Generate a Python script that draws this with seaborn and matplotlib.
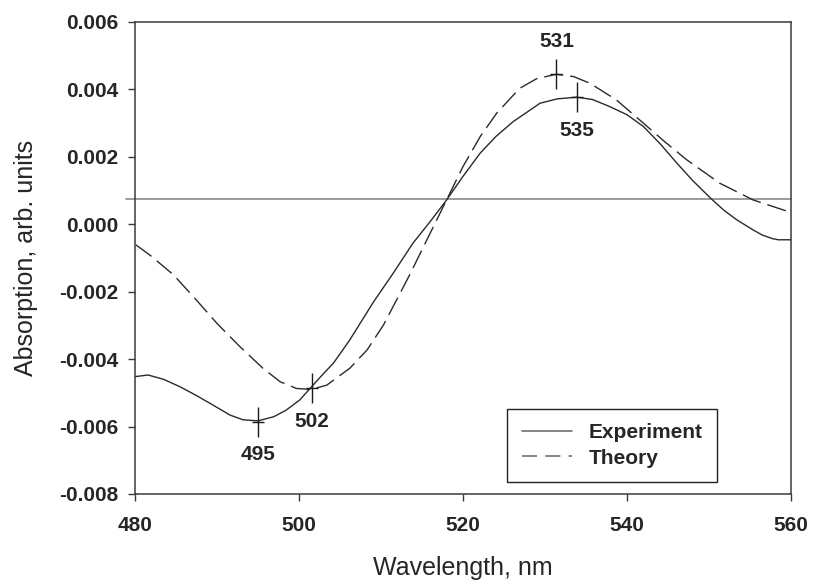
import numpy as np
import pandas as pd
import matplotlib
matplotlib.use("Agg")
import matplotlib.pyplot as plt
import seaborn as sns
from matplotlib.lines import Line2D

sns.set_style("ticks")
plt.rcParams['font.family'] = ['Liberation Sans', 'DejaVu Sans']

# experiment curve (wavelength nm, absorption in 1e-3 units)
exp_wl = [480.0, 481.6, 483.5, 485.5, 487.5, 489.5, 491.6, 493.2, 495.0, 496.9,
          498.4, 500.1, 501.5, 502.8, 504.2, 506.2, 509.1, 511.5, 513.9, 516.0,
          518.0, 520.0, 522.1, 524.0, 526.1, 529.4, 531.5, 533.9, 535.8, 537.9,
          540.0, 542.0, 544.0, 546.1, 548.0, 550.3, 551.8, 553.4, 555.4, 556.5,
          557.8, 558.5, 560.0]
exp_abs = [-4.52, -4.47, -4.60, -4.82, -5.08, -5.36, -5.66, -5.80, -5.83, -5.71,
           -5.52, -5.21, -4.83, -4.48, -4.12, -3.43, -2.30, -1.45, -0.56, 0.08,
           0.72, 1.42, 2.11, 2.60, 3.04, 3.59, 3.72, 3.77, 3.70, 3.49,
           3.25, 2.90, 2.40, 1.81, 1.30, 0.75, 0.42, 0.13, -0.17, -0.32,
           -0.43, -0.46, -0.46]

# theory curve
th_wl = [480.1, 481.8, 484.7, 487.5, 490.0, 492.8, 495.6, 497.7, 499.7, 501.5,
         503.4, 506.2, 508.3, 510.3, 511.7, 513.5, 515.2, 518.0, 520.0, 522.1,
         524.1, 526.9, 529.0, 531.4, 533.5, 535.5, 538.7, 542.0, 544.5, 547.3,
         551.3, 555.4, 559.5, 560.0]
th_abs = [-0.61, -0.91, -1.50, -2.25, -2.94, -3.63, -4.27, -4.67, -4.87, -4.90,
          -4.77, -4.27, -3.73, -2.99, -2.34, -1.50, -0.66, 0.72, 1.71, 2.60,
          3.29, 4.03, 4.32, 4.45, 4.38, 4.18, 3.69, 3.00, 2.47, 1.91,
          1.22, 0.72, 0.39, 0.37]

# marked extrema
mark_labels = ['531', '535', '495', '502']
mark_wl = [531.4, 533.9, 495.0, 501.6]
mark_abs = [4.46, 3.77, -5.85, -4.86]
mark_above = [True, False, False, False]

baseline = 0.75

df = pd.concat([
    pd.DataFrame({'wl': exp_wl, 'absorb': np.array(exp_abs) * 1e-3, 'curve': 'Experiment'}),
    pd.DataFrame({'wl': th_wl, 'absorb': np.array(th_abs) * 1e-3, 'curve': 'Theory'}),
])

fig = plt.figure(figsize=(8.14, 5.86), dpi=100)
ax = fig.add_axes([0.1658, 0.157, 0.8059, 0.8055])

line_col = '#2a2a2a'
sns.lineplot(data=df, x='wl', y='absorb', hue='curve', style='curve',
             palette=[line_col, line_col], dashes=[(1, 0), (14, 5)],
             linewidth=1.0, ax=ax, legend=False, sort=False)

ax.axhline(baseline * 1e-3, xmin=-0.014, xmax=1, color='#808080', lw=1.1,
           clip_on=False, zorder=1)

# extremum markers
for lab, x, y, up in zip(mark_labels, mark_wl, mark_abs, mark_above):
    ax.plot([x], [y * 1e-3], marker='|', ms=21, mew=1.0, color='#1a1a1a')
    ax.plot([x], [y * 1e-3], marker='_', ms=9, mew=1.0, color='#1a1a1a')
    ax.annotate(lab, (x, y * 1e-3), xytext=(0, 23 if up else -24),
                textcoords='offset points', ha='center', va='center',
                fontsize=15, fontweight='bold')

ax.set_xlim(480, 560)
ax.set_ylim(-0.008, 0.006)
ax.set_xticks([480, 500, 520, 540, 560])
yt = np.arange(-0.008, 0.0061, 0.002)
ax.set_yticks(yt)
ax.set_yticklabels([f'{v:.3f}' for v in yt])

for s in ax.spines.values():
    s.set_visible(True)
    s.set_color('#3a3a3a')
    s.set_linewidth(1.1)

ax.tick_params(axis='both', direction='out', length=5, width=1.0, color='#3a3a3a',
               labelsize=15, top=False, right=False)
ax.tick_params(axis='y', pad=7)
ax.tick_params(axis='x', pad=11)
for t in ax.get_xticklabels() + ax.get_yticklabels():
    t.set_fontweight('bold')

ax.set_xlabel('Wavelength, nm', fontsize=18, labelpad=15)
ax.set_ylabel('Absorption, arb. units', fontsize=18, labelpad=15)

handles = [Line2D([], [], color='#707070', lw=1.2),
           Line2D([], [], color='#707070', lw=1.2, dashes=(9, 5))]
leg = ax.legend(handles, ['Experiment', 'Theory'], loc='lower right',
                bbox_to_anchor=(0.887, 0.025), fancybox=False, framealpha=1,
                edgecolor='#222222', handlelength=2.4, handletextpad=0.8,
                labelspacing=0.3, borderpad=0.7, borderaxespad=0,
                prop={'size': 15, 'weight': 'bold'})
leg.get_frame().set_linewidth(1.0)

fig.savefig('out.png', dpi=100)
